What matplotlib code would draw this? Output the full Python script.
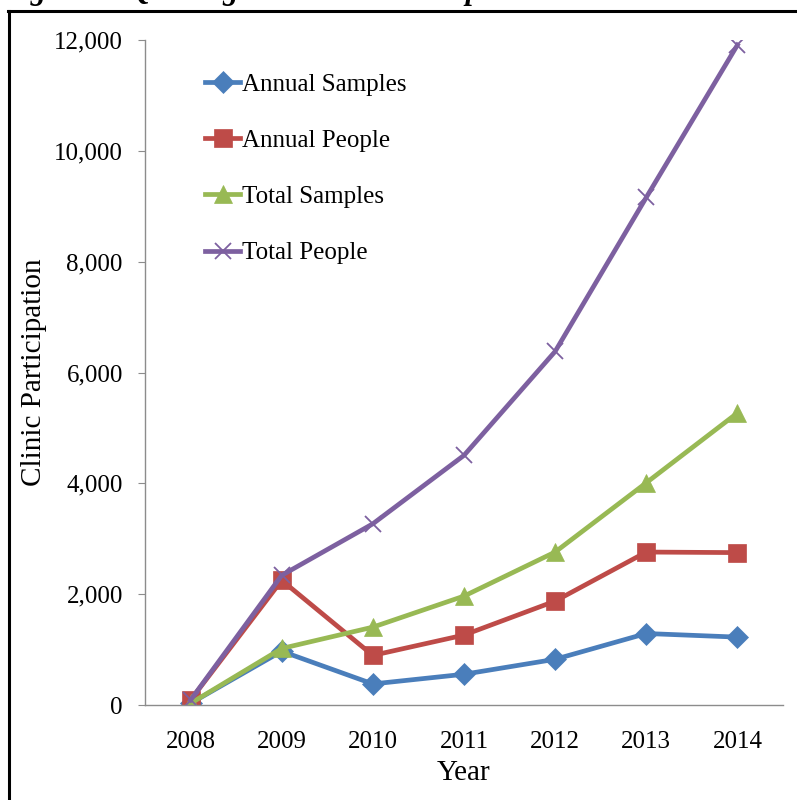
import matplotlib
matplotlib.use('Agg')
import matplotlib.pyplot as plt
from matplotlib.lines import Line2D
from matplotlib.ticker import FuncFormatter

plt.rcParams['font.family'] = 'Liberation Serif'

# Data
years = ['2008', '2009', '2010', '2011', '2012', '2013', '2014']
annual_samples = [30, 970, 380, 555, 825, 1290, 1225]
annual_people = [90, 2250, 895, 1262, 1875, 2760, 2750]
total_samples = [30, 1020, 1405, 1965, 2760, 4010, 5270]
total_people = [90, 2340, 3270, 4505, 6380, 9160, 11910]

series = [
    ('Annual Samples', annual_samples, '#4A7EBB', 'D', 11),
    ('Annual People', annual_people, '#BE4B48', 's', 13),
    ('Total Samples', total_samples, '#98B954', '^', 13),
    ('Total People', total_people, '#7D60A0', 'x', 11),
]

fig = plt.figure(figsize=(7.97, 8.0), dpi=100)
ax = fig.add_axes([145 / 797, 1 - 705 / 800, 638 / 797, 665 / 800])

x = list(range(len(years)))
for name, vals, col, mk, ms in series:
    ax.plot(x, vals, color=col, linewidth=3.4, marker=mk, markersize=ms,
            markeredgewidth=1.3 if mk == 'x' else 0.5, markeredgecolor=col,
            markerfacecolor=col, label=name)

ax.set_xlim(-0.5, len(years) - 0.5)
ax.set_ylim(0, 12000)
ax.set_yticks(range(0, 12001, 2000))
ax.yaxis.set_major_formatter(FuncFormatter(lambda v, p: f'{int(v):,}'))
ax.set_xticks(x)
ax.set_xticklabels(years)

for s in ['top', 'right']:
    ax.spines[s].set_visible(False)
for s in ['left', 'bottom']:
    ax.spines[s].set_color('#8c8c8c')
    ax.spines[s].set_linewidth(1.0)
ax.tick_params(axis='y', length=5, color='#8c8c8c', labelsize=18, pad=11)
ax.tick_params(axis='x', length=0, labelsize=18, pad=19)

ax.set_xlabel('Year', fontsize=21, labelpad=5)
ax.set_ylabel('Clinic Participation', fontsize=21, labelpad=5)

leg = ax.legend(loc='upper left', bbox_to_anchor=(205 / 797, 1 - 73 / 800),
                bbox_transform=fig.transFigure, frameon=False, fontsize=18,
                handlelength=1.4, handletextpad=0.1, labelspacing=1.35,
                borderaxespad=0, borderpad=0)

# outer frame of the figure (only top and left edges are visible)
fig.add_artist(Line2D([9 / 797, 9 / 797], [0, 1 - 11 / 800], transform=fig.transFigure,
                      color='black', linewidth=2.2))
fig.add_artist(Line2D([8 / 797, 1], [1 - 11 / 800, 1 - 11 / 800], transform=fig.transFigure,
                      color='black', linewidth=2.2))

# title cut off at the top, only the descenders show
fig.text(2 / 797, 1 + 1 / 800, 'Figure 2: QA Program Clinic Participation',
         fontsize=22, fontweight='bold', fontstyle='italic', va='baseline', ha='left')

fig.savefig('out.png', dpi=100)
